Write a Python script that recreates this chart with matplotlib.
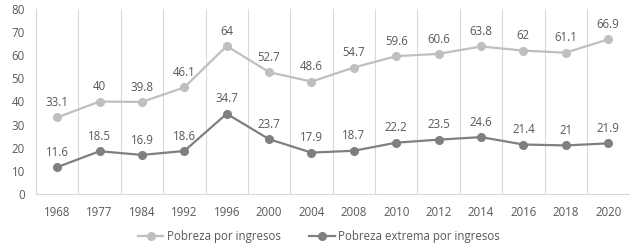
import numpy as np
import matplotlib.pyplot as plt

years = ["1968", "1977", "1984", "1992", "1996", "2000", "2004", "2008",
         "2010", "2012", "2014", "2016", "2018", "2020"]
pobreza = [33.1, 40, 39.8, 46.1, 64, 52.7, 48.6, 54.7, 59.6, 60.6, 63.8, 62, 61.1, 66.9]
extrema = [11.6, 18.5, 16.9, 18.6, 34.7, 23.7, 17.9, 18.7, 22.2, 23.5, 24.6, 21.4, 21, 21.9]

plt.rcParams['font.family'] = ['Open Sans', 'DejaVu Sans']
txt = '#595959'
fs = 8.3

fig = plt.figure(figsize=(6.38, 2.5), dpi=100)
ax = fig.add_axes([0.0564, 0.224, 0.93, 0.74])

x = np.arange(len(years))
series = [(pobreza, '#BFBFBF', 'Pobreza por ingresos'),
          (extrema, '#7F7F7F', 'Pobreza extrema por ingresos')]
for vals, c, lab in series:
    ax.plot(x, vals, color=c, lw=1.6, marker='o', ms=5.5, label=lab)
    for xi, v in zip(x, vals):
        ax.annotate(f"{v:g}", (xi, v), xytext=(0, 6), textcoords='offset points',
                    ha='center', va='bottom', fontsize=fs, color=txt)

ax.set_xlim(-0.5, len(years) - 0.5)
ax.set_ylim(0, 80)
ax.set_yticks(range(0, 81, 10))
ax.set_xticks(x)
ax.set_xticklabels(years)
for b in np.arange(0.5, len(years) - 0.5, 1.0):
    ax.axvline(b, color='#D9D9D9', lw=0.8, zorder=0)
ax.axvline(len(years) - 0.5, color='#D9D9D9', lw=0.8, zorder=0)

for s in ['top', 'right']:
    ax.spines[s].set_visible(False)
for s in ['left', 'bottom']:
    ax.spines[s].set_color('#D9D9D9')
    ax.spines[s].set_linewidth(0.8)
ax.tick_params(length=0, colors=txt, labelsize=fs)
ax.tick_params(axis='x', pad=9)
ax.tick_params(axis='y', pad=8)

fig.legend(loc='lower center', bbox_to_anchor=(0.5, -0.015), ncol=2, frameon=False,
           fontsize=fs, labelcolor=txt, handlelength=2.2, columnspacing=2.5,
           handletextpad=0.3)

fig.savefig('out.png', dpi=100)
